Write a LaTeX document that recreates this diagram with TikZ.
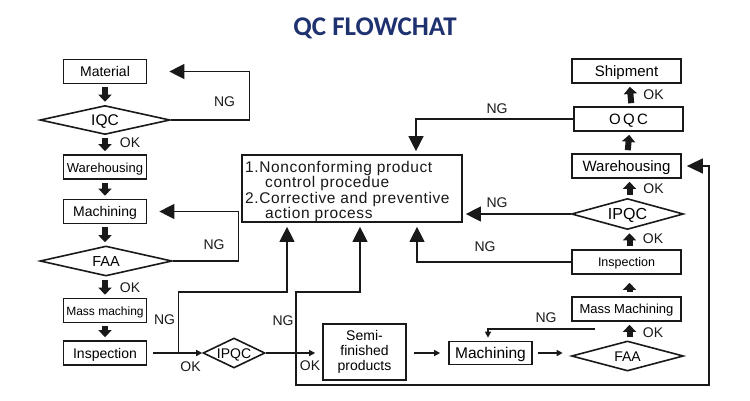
\documentclass[tikz,border=0pt]{standalone}
\usepackage{fontspec}
\setmainfont{Liberation Sans}
\newfontfamily\titlefont{Carlito}
\newfontfamily\spacedfont[LetterSpace=4.0]{Liberation Sans}
\newfontfamily\wideletters[LetterSpace=16.0]{Liberation Sans}
\usetikzlibrary{shapes.geometric,arrows.meta}
\definecolor{navy}{RGB}{31,50,112}
\definecolor{ink}{RGB}{25,25,25}
\newcommand\myfs[1]{\fontsize{#1}{#1}\selectfont}
\tikzset{
  box/.style={draw=ink, line width=1.7pt, rectangle, inner sep=0pt, minimum width=83pt, minimum height=24pt, font=\myfs{14}, text height=10pt, text depth=0pt},
  boxr/.style={box, minimum width=109pt},
  dia/.style={draw=ink, line width=1.6pt, diamond, aspect=4, inner sep=0pt, font=\myfs{14}, text height=10pt, text depth=0pt},
  conn/.style={draw=ink, line width=1.35pt},
  big/.style={conn, -{Triangle[length=15pt,width=15pt]}},
  small/.style={conn, -{Triangle[length=6pt,width=6pt]}},
  blk/.style={draw=ink, line width=6pt, -{Triangle[length=7pt,width=13pt]}, shorten <=3pt, shorten >=3pt},
  lbl/.style={font=\myfs{14}, inner sep=0pt, text=ink},
  ctxt/.style={font=\spacedfont\myfs{15.5}, inner sep=0pt, anchor=base west, text=ink}
}
\begin{document}
\begin{tikzpicture}[x=1pt,y=-1pt]
\useasboundingbox (0,0) rectangle (750,400);
\fill[white] (0,0) rectangle (750,400);

\node[font=\titlefont\bfseries\myfs{27}, text=navy, inner sep=0pt] (title) at (375,28) {QC FLOWCHAT};

% left column
\node[box] (mat) at (105,71.5) {Material};
\node[dia, minimum width=130pt, minimum height=29pt, font=\myfs{15.5}, text height=11pt] (iqc) at (105,120) {IQC};
\node[box, font=\myfs{13}] (wareL) at (105,167) {Warehousing};
\node[box] (machL) at (105,211.5) {Machining};
\node[dia, minimum width=132pt, minimum height=30pt, font=\myfs{14.5}] (faaL) at (106,261) {FAA};
\node[box, font=\myfs{12}, text height=9pt] (mass) at (105,310.5) {Mass maching};
\node[box] (inspL) at (105,353) {Inspection};

% middle
\node[dia, aspect=2, minimum width=62pt, minimum height=30pt] (ipqcL) at (234,353) {IPQC};
\node[box, minimum height=56pt, align=center, font=\fontsize{14}{15}\selectfont, text height=, text depth=] (semi) at (364.5,352) {Semi-\\finished\\products};
\node[box, minimum height=23pt, font=\myfs{15.5}, text height=11pt] (machB) at (490.5,353) {Machining};

\node[draw=ink, line width=1.7pt, rectangle, inner sep=0pt, minimum width=220pt, minimum height=67pt] (cbox) at (352,188.5) {};
\node[ctxt] (c1) at (245,172) {1.Nonconforming product};
\node[ctxt] (c2) at (265,187.5) {control procedue};
\node[ctxt] (c3) at (245,203) {2.Corrective and preventive};
\node[ctxt] (c4) at (265,218) {action process};

% right column
\node[boxr, font=\myfs{15}, text height=11pt] (ship) at (626.5,71) {Shipment};
\node[boxr, font=\wideletters\myfs{15}, text height=11pt, xshift=2pt] (oqc) at (626.5,119) {OQC};
\node[boxr, font=\myfs{15}, text height=11pt] (wareR) at (626.5,166) {Warehousing};
\node[dia, minimum width=112pt, minimum height=31pt, font=\myfs{16}, text height=11.5pt] (ipqcR) at (627.5,214) {IPQC};
\node[boxr, font=\myfs{12.5}, text height=9pt] (inspR) at (626.5,262) {Inspection};
\node[boxr, font=\myfs{13}, text height=9.5pt] (massR) at (626.5,309) {Mass Machining};
\node[dia, minimum width=112pt, minimum height=30pt] (faaR) at (627.5,356) {FAA};

% block arrows
\draw[blk] (mat.south) -- (iqc.north);
\draw[blk] (iqc.south) -- (wareL.north);
\draw[blk] (wareL.south) -- (machL.north);
\draw[blk] (machL.south) -- (faaL.north -| machL.south);
\draw[blk] (faaL.south -| mass.north) -- (mass.north);
\draw[blk] (mass.south) -- (inspL.north);
\draw[blk] ([xshift=3pt]oqc.north) -- ([xshift=3pt]ship.south);
\draw[blk] ([xshift=1pt]wareR.north) -- ([xshift=1pt]oqc.south);
\draw[blk] ([xshift=2pt]ipqcR.north) -- ([xshift=3pt]wareR.south);
\draw[blk] ([xshift=3pt]inspR.north) -- ([xshift=2pt]ipqcR.south);
\draw[blk, shorten >=8pt, shorten <=4pt] ([xshift=3pt]massR.north) -- ([xshift=3pt]inspR.south);
\draw[blk] ([xshift=2pt]faaR.north) -- ([xshift=3pt]massR.south);

% connectors
\draw[big] (iqc.east) -- ++(79,0) |- ([xshift=22pt]mat.east);
\draw[big] (faaL.east) -- ++(66,0) |- ([xshift=12pt]machL.east);
\draw[small] ([xshift=6pt]inspL.east) -- (ipqcL.west);
\draw[big, shorten >=4pt] ([xshift=31pt]inspL.east) -- ++(0,-61) -| ([xshift=-65pt]cbox.south);
\draw[small, shorten >=7pt] (ipqcL.east) -- (ipqcL.east -| semi.west);
\draw[conn, {Triangle[length=16pt,width=15pt]}-{Triangle[length=15pt,width=15pt]}, shorten <=5pt, shorten >=4pt]
  (wareR.east) -- ++(27,0) -- ++(0,219) -- ++(-413,0) -- ++(0,-93) -| ([xshift=8pt]cbox.south);
\draw[small, shorten <=7pt, shorten >=8pt] (semi.east |- machB.west) -- (machB.west);
\draw[small, shorten <=5pt, shorten >=8pt] (machB.east) -- (machB.east -| faaR.west);
\coordinate (ngs) at (595,329);
\draw[small, shorten >=3pt] (ngs) -| ([xshift=-2.5pt]machB.north);
\draw[big, shorten >=4pt] (inspR.west) -| ([xshift=65pt]cbox.south);
\draw[big, shorten >=3pt] (ipqcR.west) -- (ipqcR.west -| cbox.east);
\draw[big, shorten >=3pt] (oqc.west) -| ([xshift=64pt]cbox.north);

% labels
\node[lbl] (l1) at (224.5,102) {NG};
\node[lbl] (l2) at (214,244.5) {NG};
\node[lbl] (l3) at (164.5,319.5) {NG};
\node[lbl] (l4) at (190.5,366.5) {OK};
\node[lbl] (l5) at (283,320.5) {NG};
\node[lbl] (l6) at (310,366) {OK};
\node[lbl] (l7) at (497,108.5) {NG};
\node[lbl] (l8) at (497,203) {NG};
\node[lbl] (l9) at (485,247) {NG};
\node[lbl] (l10) at (546,317.5) {NG};
\node[lbl] (l11) at (653.5,95) {OK};
\node[lbl] (l12) at (653.5,189) {OK};
\node[lbl] (l13) at (653,238.5) {OK};
\node[lbl] (l14) at (653,333) {OK};
\node[lbl] (l15) at (130,143) {OK};
\node[lbl] (l16) at (130,288) {OK};
\end{tikzpicture}
\end{document}
